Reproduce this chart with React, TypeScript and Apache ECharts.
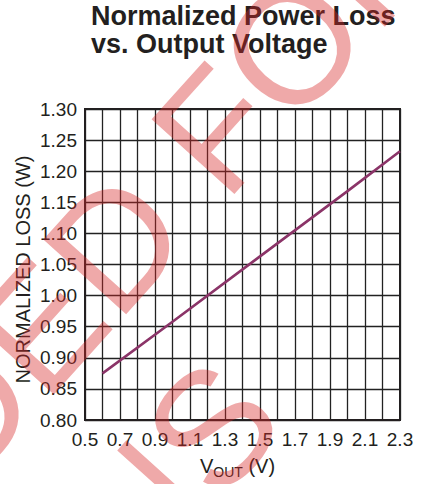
import React, { useEffect, useRef } from "react";
import * as echarts from "echarts";

const vout = [0.6, 1.0, 1.5, 2.0, 2.3];
const loss = [0.875, 0.958, 1.063, 1.168, 1.232];
const xRange = [0.5, 2.3];
const yRange = [0.8, 1.3];
const titleLines = ["Normalized Power Loss", "vs. Output Voltage"];
const watermarkLines = ["NOT RECOMMENDED FOR", "NEW DESIGNS"];

export default function App() {
  const ref = useRef<HTMLDivElement>(null);
  useEffect(() => {
    if (!ref.current) return;
    const chart = echarts.init(ref.current, null, { renderer: "svg" });
    const ang = (48 * Math.PI) / 180;
    const c1 = [-282, 683];
    const c2 = [-137, 815];
    const font = "'Liberation Sans', Arial, Helvetica, sans-serif";
    const wm = (text: string, c: number[]) => ({
      type: "text",
      z: 100,
      silent: true,
      x: c[0],
      y: c[1],
      rotation: ang,
      style: {
        text,
        fontFamily: font,
        fontSize: 162,
        fill: "rgba(214,40,40,0.4)",
        textAlign: "center",
        textVerticalAlign: "middle",
      },
    });
    chart.setOption({
      animation: false,
      backgroundColor: "#fff",
      title: {
        text: titleLines.join("\n"),
        left: 86,
        top: -3,
        textStyle: {
          fontFamily: font,
          fontSize: 27,
          fontWeight: "bold",
          lineHeight: 28,
          color: "#231f20",
        },
      },
      grid: { left: 85, right: 23, top: 109, bottom: 63, show: true, borderColor: "#231f20", borderWidth: 2, containLabel: false },
      xAxis: {
        type: "value",
        min: xRange[0],
        max: xRange[1],
        interval: 0.1,
        axisLine: { show: true, lineStyle: { color: "#231f20", width: 2 } },
        axisTick: { show: false },
        splitLine: { show: true, lineStyle: { color: "#222", width: 1.3 } },
        axisLabel: {
          fontFamily: font,
          fontSize: 19,
          color: "#231f20",
          margin: 10,
          formatter: (v: number) => {
            const k = Math.round(v * 10);
            return k % 2 === 1 ? (k / 10).toFixed(1) : "";
          },
        },
        name: "{v|V}{s|OUT}{v| (V)}",
        nameLocation: "middle",
        nameGap: 33,
        nameMoveOverlap: false,
        nameTextStyle: {
          padding: [0, 10, 0, 0],
          rich: {
            v: { fontFamily: font, fontSize: 20, color: "#231f20", lineHeight: 26 },
            s: { fontFamily: font, fontSize: 14, color: "#231f20", verticalAlign: "bottom" },
          },
        },
      },
      yAxis: {
        type: "value",
        min: yRange[0],
        max: yRange[1],
        interval: 0.05,
        axisLine: { show: true, lineStyle: { color: "#231f20", width: 2 } },
        axisTick: { show: false },
        splitLine: { show: true, lineStyle: { color: "#222", width: 1.3 } },
        axisLabel: {
          fontFamily: font,
          fontSize: 19,
          color: "#231f20",
          margin: 8,
          formatter: (v: number) => v.toFixed(2),
        },
        name: "NORMALIZED LOSS (W)",
        nameLocation: "middle",
        nameGap: 52,
        nameMoveOverlap: false,
        nameTextStyle: { fontFamily: font, fontSize: 20, color: "#231f20", padding: [0, 10, 0, 0] },
      },
      series: [
        {
          type: "line",
          data: vout.map((x, i) => [x, loss[i]]),
          showSymbol: false,
          lineStyle: { color: "#8b3468", width: 2.6 },
        },
      ],
      graphic: [wm(watermarkLines[0], c1), wm(watermarkLines[1], c2)],
    });
    return () => chart.dispose();
  }, []);
  return <div ref={ref} style={{ width: 423, height: 484, position: "absolute", left: 0, top: 0 }} />;
}
